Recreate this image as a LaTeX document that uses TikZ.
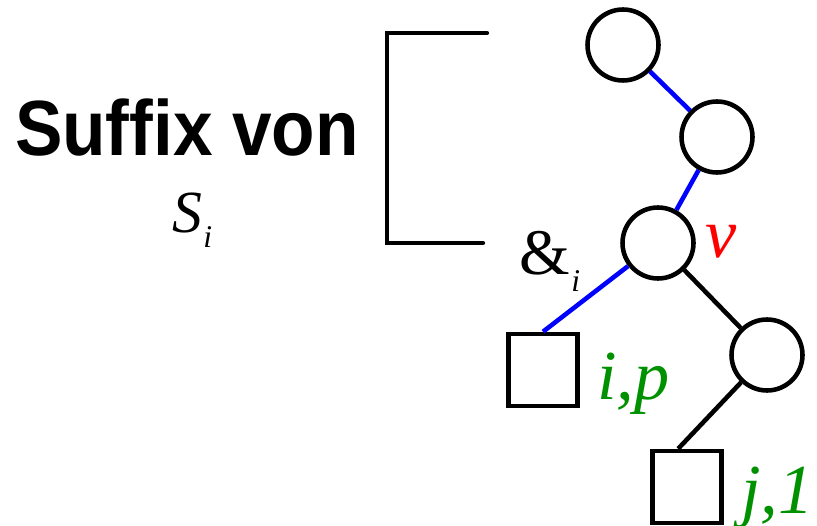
\documentclass[tikz,border=0pt]{standalone}
\usepackage{fontspec}
\setmainfont{Liberation Serif}
\setsansfont{Liberation Sans}
\usetikzlibrary{positioning}
\definecolor{lblgreen}{RGB}{0,145,0}
\tikzset{
  inode/.style={circle,draw,line width=2.6pt,minimum size=1.42cm,inner sep=0pt},
  leaf/.style={rectangle,draw,line width=2.6pt,minimum width=1.38cm,minimum height=1.44cm,inner sep=0pt},
  sfx/.style={blue,line width=2.6pt},
  tedge/.style={black,line width=2.6pt},
  lbl/.style={font=\fontsize{40}{40}\selectfont\itshape,inner sep=0pt,anchor=base west},
  sub/.style={font=\fontsize{18}{18}\selectfont\itshape,inner sep=0pt,anchor=base west}
}
\begin{document}
\begin{tikzpicture}[x=0.02cm,y=-0.02cm]
    \useasboundingbox (0,0) rectangle (817,526);

    % === Title on the left ===
    \node[font=\fontsize{40.5}{41}\selectfont\sffamily\bfseries,inner sep=0pt,anchor=base] (title) at (187,156) {\scalebox{1}[1.1]{Suffix von}};
    \node[font=\fontsize{34}{34}\selectfont\itshape,inner sep=0pt,anchor=base west] (si) at (172,233) {S};
    \node[sub] (sisub) at (203,248) {i};

    % bracket
    \draw[line width=2.4pt,line cap=round] (487,33) -| (387,243) -- (483,243);

    % === Tree ===
    \node[inode] (r) at (623,45) {};
    \node[inode] (a) at (717,137) {};
    \node[inode] (v) at (658,243) {};
    \node[inode] (b) at (767,355) {};
    \node[leaf] (lp) at (543,370) {};
    \node[leaf] (lj) at (687,487) {};

    % suffix path
    \draw[sfx] (r) -- (a);
    \draw[sfx] (a) -- (v);
    \draw[sfx] (v) -- (lp.north);
    % other branch
    \draw[tedge] (v) -- (b);
    \draw[tedge] (b) -- (lj.103);

    % labels
    \node[lbl,red] (vl) at (705,258) {v};
    \node[lbl,lblgreen] (ipl) at (597,399) {i,p};
    \node[lbl,lblgreen] (jl) at (741,513) {j,1};
    \node[font=\fontsize{37}{37}\selectfont,inner sep=0pt,anchor=base west] (amp) at (519,275) {\&};
    \node[sub] (ampsub) at (571,292) {i};
\end{tikzpicture}
\end{document}
